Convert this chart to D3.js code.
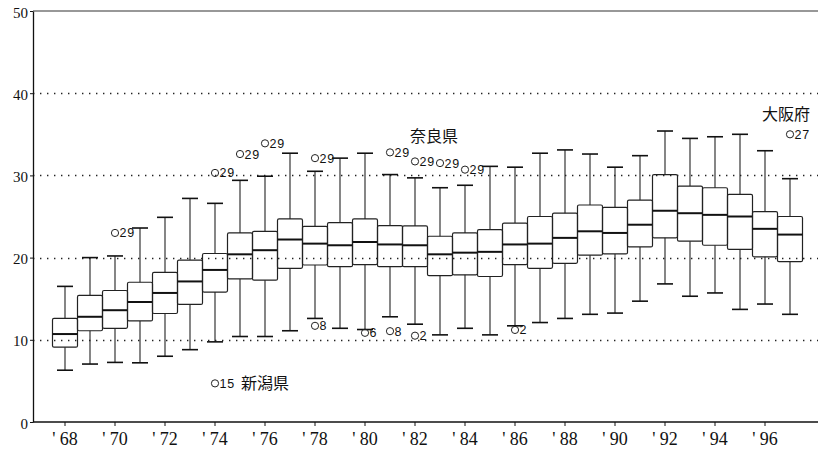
<!DOCTYPE html>
<html>
<head>
<meta charset="utf-8">
<script src="https://cdn.jsdelivr.net/npm/d3@7"></script>
<style>
  body { margin: 0; background: #fff; }
  .axis text { font-family: "Liberation Serif", serif; fill: #111; }
  .axis line, .axis path { stroke: #111; }
</style>
</head>
<body>
<div id="chart"></div>
<script>
// one box per year, '68 - '97
const years      = [1968,1969,1970,1971,1972,1973,1974,1975,1976,1977,1978,1979,1980,1981,1982,
                    1983,1984,1985,1986,1987,1988,1989,1990,1991,1992,1993,1994,1995,1996,1997];
const whiskerLow = [6.3,7.05,7.25,7.2,8.0,8.8,9.75,10.4,10.4,11.1,12.6,11.4,11.25,12.8,11.9,
                    10.6,11.4,10.6,11.7,12.1,12.6,13.1,13.25,14.7,16.8,15.3,15.7,13.7,14.35,13.1];
const q1         = [9.1,11.1,11.4,12.3,13.2,14.3,15.8,17.4,17.25,18.7,19.1,18.9,19.15,18.9,18.9,
                    17.8,17.9,17.7,19.15,18.7,19.3,20.3,20.45,21.3,22.4,22.0,21.5,21.0,20.1,19.5];
const median     = [10.7,12.8,13.6,14.6,15.7,17.1,18.5,20.4,20.9,22.2,21.7,21.5,21.9,21.6,21.5,
                    20.4,20.6,20.7,21.6,21.7,22.4,23.2,23.0,24.0,25.7,25.4,25.2,25.0,23.5,22.8];
const q3         = [12.6,15.4,16.0,17.0,18.2,19.7,20.5,23.0,23.2,24.7,23.8,24.25,24.7,23.9,23.85,
                    22.6,23.0,23.4,24.2,25.0,25.4,26.4,26.1,27.0,30.1,28.7,28.5,27.7,25.6,25.0];
const whiskerHigh= [16.5,20.0,20.2,23.6,24.9,27.2,26.6,29.4,29.9,32.7,30.5,32.1,32.7,30.1,29.7,
                    28.5,28.8,31.1,31.0,32.7,33.1,32.6,31.0,32.4,35.4,34.5,34.7,35.0,33.0,29.6];

// outliers: year, value, prefecture number
const outlierYears  = [1970,1974,1974,1975,1976,1978,1978,1980,1981,1981,1982,1982,1983,1984,1986,1997];
const outlierValues = [23.0,30.3,4.7,32.6,33.9,32.1,11.7,10.85,32.8,11.05,31.7,10.5,31.5,30.7,11.2,35.0];
const outlierIds    = ["29","29","15","29","29","29","8","6","29","8","29","2","29","29","2","27"];

// prefecture names written next to the outliers
const noteTexts  = ["新潟県", "奈良県", "大阪府"];
const noteYears  = [1974, 1983, 1997];
const noteValues = [4.7, 34.8, 37.4];

const yTicks = [0, 10, 20, 30, 40, 50];

const width = 818, height = 452;
const margin = ({ top: 11, right: 0, bottom: 30, left: 33 });

const svg = d3.select("#chart").append("svg")
    .attr("width", width)
    .attr("height", height);

const x = d3.scaleBand()
    .domain(years)
    .range([52.5, 802.5])
    .padding(0);

const y = d3.scaleLinear()
    .domain([0, 50])
    .range([height - margin.bottom, margin.top]);

// dotted grid
svg.append("g")
  .selectAll("line")
  .data(yTicks.filter(d => d > 0 && d < 50))
  .join("line")
    .attr("x1", margin.left)
    .attr("x2", width)
    .attr("y1", d => Math.round(y(d)) + 0.5)
    .attr("y2", d => Math.round(y(d)) + 0.5)
    .attr("stroke", "#222")
    .attr("stroke-width", 1.4)
    .attr("stroke-dasharray", "1.4,5.6");

// frame: top and bottom lines
svg.append("line")
    .attr("x1", margin.left).attr("x2", width)
    .attr("y1", y(50)).attr("y2", y(50))
    .attr("stroke", "#333").attr("stroke-width", 1.2);
svg.append("line")
    .attr("x1", margin.left).attr("x2", width)
    .attr("y1", y(0)).attr("y2", y(0))
    .attr("stroke", "#111").attr("stroke-width", 1.3);

const xAxis = d3.axisBottom(x)
    .tickValues(years.filter(d => d % 2 === 0))
    .tickSize(4)
    .tickSizeOuter(0)
    .tickFormat(d => "' " + String(d).slice(2));

svg.append("g")
    .attr("class", "axis x-axis")
    .attr("transform", `translate(0, ${y(0)})`)
    .call(xAxis)
    .call(g => g.select(".domain").remove())
    .call(g => g.selectAll("text").attr("font-size", 18).attr("dy", "0.9em"));

const yAxis = d3.axisLeft(y)
    .tickValues(yTicks)
    .tickSize(3)
    .tickSizeOuter(0)
    .tickPadding(2);

svg.append("g")
    .attr("class", "axis y-axis")
    .attr("transform", `translate(${margin.left}, 0)`)
    .call(yAxis)
    .call(g => g.select(".domain").attr("stroke-width", 1.3))
    .call(g => g.selectAll("text")
        .attr("font-family", "DejaVu Serif, serif")
        .attr("font-size", 15)
        .attr("dy", "0.4em"));

// boxes
const boxes = svg.append("g")
  .selectAll("g")
  .data(years.map((d, i) => ({ year: d, lo: whiskerLow[i], q1: q1[i], med: median[i], q3: q3[i], hi: whiskerHigh[i] })))
  .join("g")
    .attr("transform", d => `translate(${x(d.year)}, 0)`);

const bw = x.bandwidth();
const cx = bw / 2;
const capW = 16;

boxes.append("line")
    .attr("x1", cx).attr("x2", cx)
    .attr("y1", d => y(d.hi)).attr("y2", d => y(d.q3))
    .attr("stroke", "#222").attr("stroke-width", 1.1);
boxes.append("line")
    .attr("x1", cx).attr("x2", cx)
    .attr("y1", d => y(d.q1)).attr("y2", d => y(d.lo))
    .attr("stroke", "#222").attr("stroke-width", 1.1);
boxes.append("line")
    .attr("x1", cx - capW / 2).attr("x2", cx + capW / 2)
    .attr("y1", d => y(d.hi)).attr("y2", d => y(d.hi))
    .attr("stroke", "#111").attr("stroke-width", 1.6);
boxes.append("line")
    .attr("x1", cx - capW / 2).attr("x2", cx + capW / 2)
    .attr("y1", d => y(d.lo)).attr("y2", d => y(d.lo))
    .attr("stroke", "#111").attr("stroke-width", 1.6);
boxes.append("rect")
    .attr("x", 0)
    .attr("width", bw)
    .attr("y", d => y(d.q3))
    .attr("height", d => y(d.q1) - y(d.q3))
    .attr("rx", 1.5)
    .attr("fill", "none")
    .attr("stroke", "#222")
    .attr("stroke-width", 1.2);
boxes.append("line")
    .attr("x1", 0).attr("x2", bw)
    .attr("y1", d => y(d.med)).attr("y2", d => y(d.med))
    .attr("stroke", "#111").attr("stroke-width", 2);

// outliers
const outliers = svg.append("g")
  .selectAll("g")
  .data(outlierYears.map((d, i) => ({ year: d, value: outlierValues[i], id: outlierIds[i] })))
  .join("g")
    .attr("transform", d => `translate(${x(d.year) + bw / 2}, ${y(d.value)})`);

outliers.append("circle")
    .attr("r", 3.6)
    .attr("fill", "none")
    .attr("stroke", "#222")
    .attr("stroke-width", 1);

outliers.append("text")
    .attr("x", 4.5)
    .attr("dy", "0.36em")
    .attr("font-family", "Liberation Sans, Arial, sans-serif")
    .attr("font-size", 12.5)
    .attr("textLength", d => d.id.length * 7.3)
    .attr("fill", "#111")
    .text(d => d.id);

// prefecture names
svg.append("g")
  .selectAll("text")
  .data(noteTexts.map((d, i) => ({ text: d, year: noteYears[i], value: noteValues[i] })))
  .join("text")
    .attr("x", (d, i) => i === 0 ? x(d.year) + bw / 2 + 26 : i === 1 ? x(d.year) + bw / 2 - 6 : x(d.year) + bw / 2 + 20)
    .attr("y", d => y(d.value))
    .attr("dy", "0.36em")
    .attr("text-anchor", (d, i) => i === 0 ? "start" : i === 1 ? "middle" : "end")
    .attr("font-family", "Noto Sans CJK JP, sans-serif")
    .attr("font-size", 16)
    .attr("fill", "#111")
    .text(d => d.text);
</script>
</body>
</html>
